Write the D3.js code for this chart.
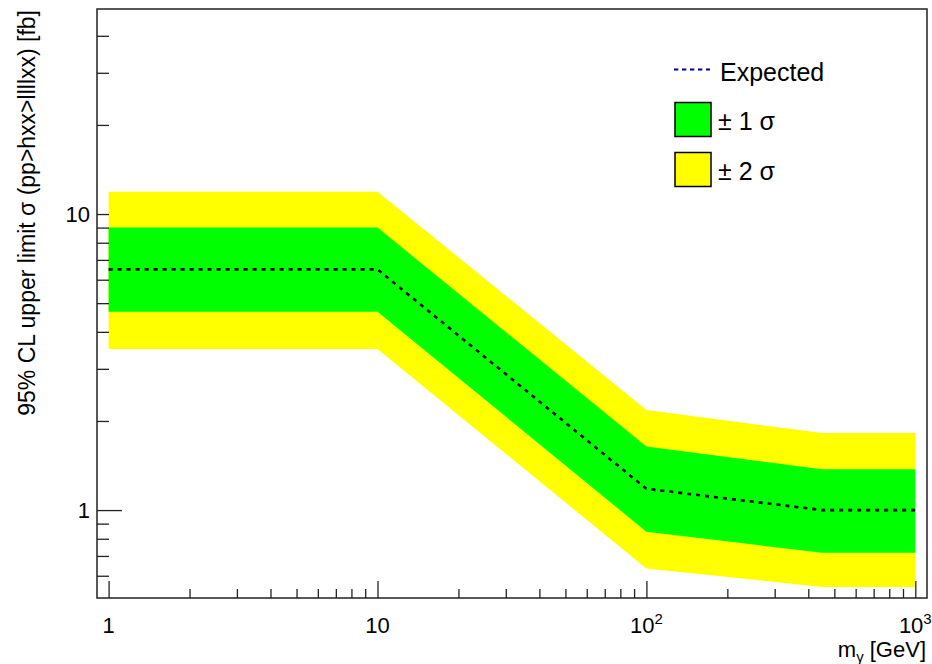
<!DOCTYPE html>
<html lang="en">
<head>
    <meta charset="UTF-8">
    <title>Expected limit</title>
    <script src="https://d3js.org/d3.v7.min.js" charset="utf-8"></script>
    <style>
        html, body {
        margin:0;
        background:#fff;
        }
        svg {
        position:absolute;
        top:0px;
        left:0px;
        font-family:"Liberation Sans", Arial, sans-serif;
        }
    </style>
</head>
<body>
<svg width="932" height="664"></svg>
<script>
    // data
    var massX    = [1, 10, 100, 450, 1000];
    var expected = [6.5, 6.5, 1.18, 1.0, 1.0];
    var sig1Lo   = [4.68, 4.68, 0.845, 0.717, 0.717];
    var sig1Hi   = [9.0, 9.0, 1.64, 1.375, 1.375];
    var sig2Lo   = [3.5, 3.5, 0.635, 0.55, 0.55];
    var sig2Hi   = [11.9, 11.9, 2.18, 1.82, 1.82];

    var xMajor = [1, 10, 100, 1000];
    var xMajorBase = ["1", "10", "10", "10"];
    var xMajorExp = ["", "", "2", "3"];
    var xMinor = [2,3,4,5,6,7,8,9, 20,30,40,50,60,70,80,90, 200,300,400,500,600,700,800,900];
    var yLabelVals = [1, 10];
    var yLabels = ["1", "10"];
    var yMinor = [0.6,0.7,0.8,0.9, 2,3,4,5,6,7,8,9,10, 20,30,40];

    var svg = d3.select('svg');
    var frame = {left: 97, top: 9, right: 927, bottom: 598};

    var x = d3.scaleLog()
        .domain([Math.pow(10, -0.0431), Math.pow(10, 3.0435)])
        .range([frame.left, frame.right]);
    var y = d3.scaleLog()
        .domain([Math.pow(10, -0.297), Math.pow(10, 1.6926)])
        .range([frame.bottom, frame.top]);

    var pts = massX.map(function(m, i) {
        return {m: m, e: expected[i], l1: sig1Lo[i], h1: sig1Hi[i], l2: sig2Lo[i], h2: sig2Hi[i]};
    });

    var band = function(lo, hi) {
        return d3.area()
            .x(function(d) { return x(d.m); })
            .y0(function(d) { return y(d[lo]); })
            .y1(function(d) { return y(d[hi]); });
    };

    svg.append("path").datum(pts).attr("d", band("l2", "h2")).attr("fill", "#ffff00");
    svg.append("path").datum(pts).attr("d", band("l1", "h1")).attr("fill", "#00ff00");

    svg.append("path").datum(pts)
        .attr("d", d3.line().x(function(d) { return x(d.m); }).y(function(d) { return y(d.e); }))
        .attr("fill", "none")
        .attr("stroke", "#000")
        .attr("stroke-width", 2.6)
        .attr("stroke-dasharray", "4,5");

    // ticks, pointing inwards
    var tickStyle = function(g) {
        g.select(".domain").remove();
        g.selectAll(".tick line").attr("stroke", "#222").attr("stroke-width", 1.3);
        g.selectAll(".tick text").remove();
    };
    svg.append("g").attr("transform", "translate(0," + frame.bottom + ")")
        .call(d3.axisTop(x).tickValues(xMinor).tickSize(9)).call(tickStyle);
    svg.append("g").attr("transform", "translate(0," + frame.bottom + ")")
        .call(d3.axisTop(x).tickValues(xMajor).tickSize(17)).call(tickStyle);
    svg.append("g").attr("transform", "translate(" + frame.left + ",0)")
        .call(d3.axisRight(y).tickValues(yMinor).tickSize(12)).call(tickStyle);
    svg.append("g").attr("transform", "translate(" + frame.left + ",0)")
        .call(d3.axisRight(y).tickValues([1]).tickSize(25)).call(tickStyle);

    svg.append("rect")
        .attr("x", frame.left).attr("y", frame.top)
        .attr("width", frame.right - frame.left).attr("height", frame.bottom - frame.top)
        .attr("fill", "none").attr("stroke", "#222").attr("stroke-width", 1.5);

    // tick labels
    var xl = svg.append("g").selectAll("text").data(xMajor).enter().append("text")
        .attr("x", function(d) { return x(d); })
        .attr("y", 633)
        .attr("text-anchor", "middle")
        .style("font-size", "22px");
    xl.append("tspan").text(function(d, i) { return xMajorBase[i]; });
    xl.append("tspan")
        .attr("dy", -9)
        .style("font-size", "15px")
        .text(function(d, i) { return xMajorExp[i]; });

    svg.append("g").selectAll("text").data(yLabelVals).enter().append("text")
        .attr("x", 90)
        .attr("y", function(d) { return y(d) + 8; })
        .attr("text-anchor", "end")
        .style("font-size", "22px")
        .text(function(d, i) { return yLabels[i]; });

    // axis titles
    var xt = svg.append("text")
        .attr("x", 926).attr("y", 657)
        .attr("text-anchor", "end")
        .style("font-size", "22px");
    xt.append("tspan").text("m");
    xt.append("tspan").attr("dy", 5).style("font-size", "15px").text("γ");
    xt.append("tspan").attr("dy", -5).text(" [GeV]");

    svg.append("text")
        .attr("transform", "translate(35,10) rotate(-90)")
        .attr("text-anchor", "end")
        .style("font-size", "23px")
        .text("95% CL upper limit σ (pp>hxx>llllxx) [fb]");

    // legend
    var leg = svg.append("g");
    leg.append("line")
        .attr("x1", 674).attr("x2", 710).attr("y1", 69.5).attr("y2", 69.5)
        .attr("stroke", "#000099").attr("stroke-width", 2.2)
        .attr("stroke-dasharray", "4.3,3.7");
    leg.append("text").attr("x", 720).attr("y", 80.5)
        .style("font-size", "25px").text("Expected");

    leg.append("rect").attr("x", 675).attr("y", 102.5).attr("width", 36).attr("height", 34)
        .attr("fill", "#00ff00").attr("stroke", "#000").attr("stroke-width", 1.5);
    leg.append("text").attr("x", 718).attr("y", 130)
        .style("font-size", "25px").text("± 1 σ");

    leg.append("rect").attr("x", 675).attr("y", 152.5).attr("width", 36).attr("height", 34)
        .attr("fill", "#ffff00").attr("stroke", "#000").attr("stroke-width", 1.5);
    leg.append("text").attr("x", 718).attr("y", 180)
        .style("font-size", "25px").text("± 2  σ");
</script>

</body>
</html>
